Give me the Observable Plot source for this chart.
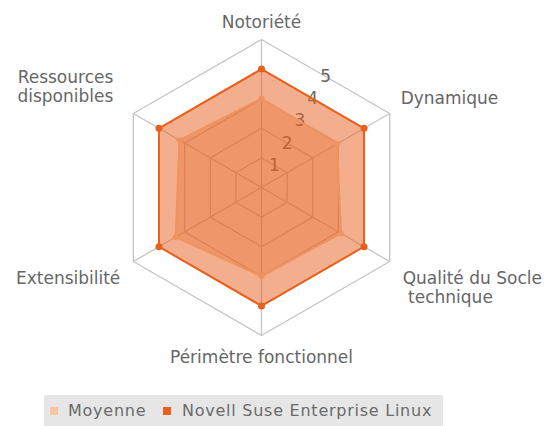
<!DOCTYPE html>
<html>
<head>
<meta charset="utf-8">
<script src="https://cdn.jsdelivr.net/npm/d3@7"></script>
<script src="https://cdn.jsdelivr.net/npm/@observablehq/plot@0.6"></script>
<style>
  html, body { margin: 0; padding: 0; background: #fff; }
  body { width: 552px; height: 426px; overflow: hidden; font-family: "DejaVu Sans", sans-serif; position: relative; }
  #chart svg text { white-space: pre; }
  #legend {
    position: absolute; left: 44px; top: 395px; width: 399px; height: 31px;
    background: #e6e6e6; font-family: "DejaVu Sans", sans-serif; font-size: 16px;
    color: #6a6a6a; letter-spacing: 0.75px; white-space: nowrap;
  }
  .sw { position: absolute; top: 12px; width: 8px; height: 8px; }
  .lt { position: absolute; top: 6px; line-height: 20px; }
</style>
</head>
<body>
<div id="chart"></div>
<div id="legend"></div>
<script>
const axes = ["Notoriété", "Dynamique", "Qualité du Socle\n technique", "Périmètre fonctionnel", "Extensibilité", "Ressources\ndisponibles"];
const seriesNames = ["Moyenne", "Novell Suse Enterprise Linux"];
const moyenne = [3.0, 2.95, 3.1, 3.0, 3.35, 3.2];
const novell = [4, 4, 4, 4, 4, 4];
const tickValues = [1, 2, 3, 4, 5];
const maxValue = 5;

const colors = {moyenne: "#f0935e", novell: "#e8601c"};
const legendSwatch = ["#f8c4a6", "#e8601c"];

const ang = i => (90 - 60 * i) * Math.PI / 180;
const pt = (i, v) => ({x: v * Math.cos(ang(i)), y: v * Math.sin(ang(i))});

const gridData = tickValues.flatMap(k => axes.map((a, i) => ({level: k, ...pt(i, k)})));
const spokes = axes.map((a, i) => ({x1: 0, y1: 0, x2: pt(i, maxValue).x, y2: pt(i, maxValue).y}));
const tickLabels = tickValues.map(k => {
  const r = k * Math.cos(Math.PI / 6);
  const t = 60 * Math.PI / 180;
  return {k, x: r * Math.cos(t), y: r * Math.sin(t)};
});
const moyPts = moyenne.map((v, i) => pt(i, v));
const novPts = novell.map((v, i) => pt(i, v));

const W = 552, H = 395, cx = 261, cy = 187, unit = 29.6;
const xDomain = [-cx / unit, (W - cx) / unit];
const yDomain = [(cy - H) / unit, cy / unit];

const labelStyle = [
  {dx: 0, dy: -17, textAnchor: "middle"},
  {dx: 11, dy: -15, textAnchor: "start"},
  {dx: 13, dy: 26, textAnchor: "start"},
  {dx: 0, dy: 22, textAnchor: "middle"},
  {dx: -13, dy: 17, textAnchor: "end"},
  {dx: -20, dy: -27, textAnchor: "end"}
];
const labelMarks = axes.map((a, i) => Plot.text([{label: a, ...pt(i, maxValue)}], {
  x: "x", y: "y", text: "label", fill: "#666", fontSize: 17, lineHeight: 1.08,
  lineAnchor: "middle",
  ...labelStyle[i],
  style: "letter-spacing: 2px"
}));

const chart = Plot.plot({
  width: W, height: H,
  margin: 0,
  x: {domain: xDomain, axis: null},
  y: {domain: yDomain, axis: null},
  style: {fontFamily: "DejaVu Sans, sans-serif", background: "transparent"},
  marks: [
    Plot.line(gridData, {x: "x", y: "y", z: "level", curve: "linear-closed", stroke: "#c4c4c4", strokeWidth: 1.3}),
    Plot.link(spokes, {x1: "x1", y1: "y1", x2: "x2", y2: "y2", stroke: "#c4c4c4", strokeWidth: 1.3}),
    Plot.text(tickLabels, {x: "x", y: "y", text: d => String(d.k), fill: "#666", fontSize: 17}),
    Plot.line(novPts, {x: "x", y: "y", curve: "linear-closed", fill: colors.novell, fillOpacity: 0.5, stroke: colors.novell, strokeWidth: 2}),
    Plot.line(moyPts, {x: "x", y: "y", curve: "linear-closed", fill: colors.novell, fillOpacity: 0.3, stroke: colors.moyenne, strokeWidth: 2}),
    Plot.dot(moyPts, {x: "x", y: "y", r: 3, fill: colors.moyenne}),
    Plot.dot(novPts, {x: "x", y: "y", r: 3.5, fill: colors.novell}),
    ...labelMarks
  ]
});
document.getElementById("chart").appendChild(chart);

const legend = document.getElementById("legend");
const swLeft = [6, 119], txtLeft = [24, 138];
seriesNames.forEach((s, i) => {
  const sw = document.createElement("div");
  sw.className = "sw";
  sw.style.left = swLeft[i] + "px";
  sw.style.background = legendSwatch[i];
  legend.appendChild(sw);
  const t = document.createElement("span");
  t.className = "lt";
  t.style.left = txtLeft[i] + "px";
  t.textContent = s;
  legend.appendChild(t);
});
</script>
</body>
</html>
